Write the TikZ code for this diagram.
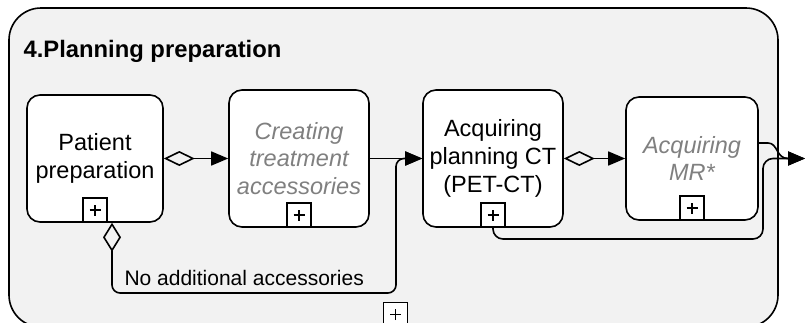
\documentclass[tikz,border=0pt]{standalone}
\usepackage{fontspec}
\setmainfont{Liberation Sans}
\usetikzlibrary{arrows.meta}
\definecolor{poolfill}{HTML}{F2F2F2}
\definecolor{softtext}{HTML}{808080}
\tikzset{
  pool/.style={draw, line width=1.6pt, fill=poolfill, rounded corners=32pt},
  task/.style={draw, line width=1.6pt, fill=white, rounded corners=13pt, align=center,
    inner sep=0pt, font=\fontsize{23.5}{27.6}\selectfont},
  optional/.style={task, text=softtext, font=\fontsize{23.5}{27.6}\selectfont\itshape},
  submark/.style={draw, line width=1.6pt, fill=white, minimum size=24pt, inner sep=0pt,
    path picture={
      \draw[line width=1.8pt]
        ([xshift=-5.5pt]path picture bounding box.center) -- ([xshift=5.5pt]path picture bounding box.center)
        ([yshift=-5.5pt]path picture bounding box.center) -- ([yshift=5.5pt]path picture bounding box.center);
    }},
  flow/.style={line width=1.6pt, -{Triangle[length=17pt,width=14pt]}},
  condflow/.style={line width=1.6pt,
    {Diamond[open,length=31pt,width=15pt]}-{Triangle[length=17pt,width=14pt]}},
  condflowdown/.style={line width=1.6pt,
    {Diamond[open,length=29pt,width=18pt]}-{Triangle[length=17pt,width=14pt]}},
}
\begin{document}
\begin{tikzpicture}[x=1pt, y=-1pt]
\useasboundingbox (0,0) rectangle (806,322);
\clip (0,0) rectangle (806,322);

% sub-process container
\draw[pool] (9,8) rectangle (778,327);
\node[submark] (m0) at (395.5,314.5) {};
\node[anchor=base west, font=\fontsize{23.8}{28}\selectfont\bfseries] (title) at (20,57) {4.Planning preparation};

% tasks
\node[task, minimum width=136pt, minimum height=127pt] (p1) at (95,158.5) {Patient\\preparation};
\node[optional, minimum width=140pt, minimum height=137pt] (p2) at (299,158.5) {Creating\\treatment\\accessories};
\node[task, minimum width=140pt, minimum height=137pt] (p3) at (493,158.5) {Acquiring\\planning CT\\(PET-CT)};
\node[optional, minimum width=132pt, minimum height=123pt] (p4) at (692,158.5) {Acquiring\\MR*};

% collapsed sub-process markers
\node[submark, anchor=south] (m1) at (p1.south) {};
\node[submark, anchor=south] (m2) at (p2.south) {};
\node[submark, anchor=south] (m3) at (p3.south) {};
\node[submark, anchor=south] (m4) at (p4.south) {};

% helper points
\coordinate (skip) at (396,293);
\coordinate (merge) at (763,239);
\coordinate (out) at (805,158.5);

% sequence flows
\draw[condflow] (p1.east) -- (p2.west);
\draw[flow] (p2.east) -- (p3.west);
\draw[condflowdown, rounded corners=8pt] ([xshift=17pt]p1.south) |- (skip) |- (p3.west);
\node[anchor=base west, font=\fontsize{21}{25}\selectfont] (lbl) at (121,285) {No additional accessories};
\draw[condflow] (p3.east) -- (p4.west);
\draw[flow] ([yshift=15.5pt]p4.east) -- (768,143) .. controls (778,143) and (776,158.5) .. (788,158.5) -- (out);
\draw[flow, rounded corners=10pt] (m3.south) |- (merge) -- (merge |- out) -- (out);
\end{tikzpicture}
\end{document}
